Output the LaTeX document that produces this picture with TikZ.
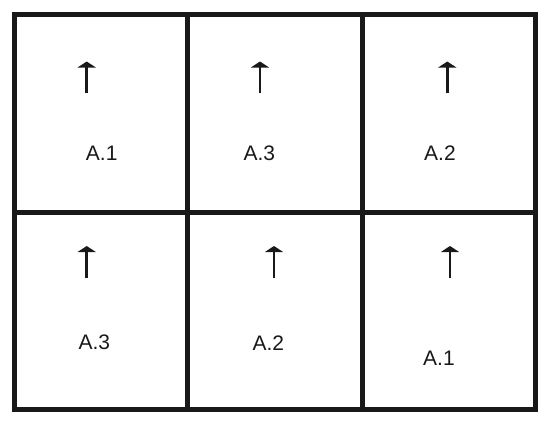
\documentclass[tikz,border=0pt]{standalone}
\usepackage{fontspec}
\setmainfont{Liberation Sans}
\usetikzlibrary{arrows.meta}
\begin{document}
\begin{tikzpicture}[x=1pt,y=-1pt,
  grid/.style={line width=5pt, line join=miter, draw=black!90},
  uparrow/.style={line width=2.7pt, draw=black!90, -{Triangle[width=18pt,length=6pt]}},
  lbl/.style={font=\fontsize{21}{25}\selectfont, text=black!90, inner sep=0pt}]
\useasboundingbox (0,0) rectangle (550,424);
\draw[grid] (14.5,14.5) rectangle (535.5,409.5);
\draw[grid] (187.5,14.5) -- (187.5,409.5);
\draw[grid] (362.5,14.5) -- (362.5,409.5);
\draw[grid] (14.5,212) -- (535.5,212);
% arrows
\draw[uparrow] (86.7,93.3) -- (86.7,61.5);
\draw[uparrow] (260,93.3) -- (260,61.5);
\draw[uparrow] (447.3,93.3) -- (447.3,61.5);
\draw[uparrow] (86.7,278) -- (86.7,246);
\draw[uparrow] (274,278) -- (274,246);
\draw[uparrow] (450,278) -- (450,246);
% labels
\node[lbl] (c1) at (101.7,153.3) {A.1};
\node[lbl] (c2) at (259.3,153.3) {A.3};
\node[lbl] (c3) at (440,153.3) {A.2};
\node[lbl] (c4) at (94.3,342.7) {A.3};
\node[lbl] (c5) at (268.3,342.7) {A.2};
\node[lbl] (c6) at (439,358) {A.1};
\end{tikzpicture}
\end{document}
